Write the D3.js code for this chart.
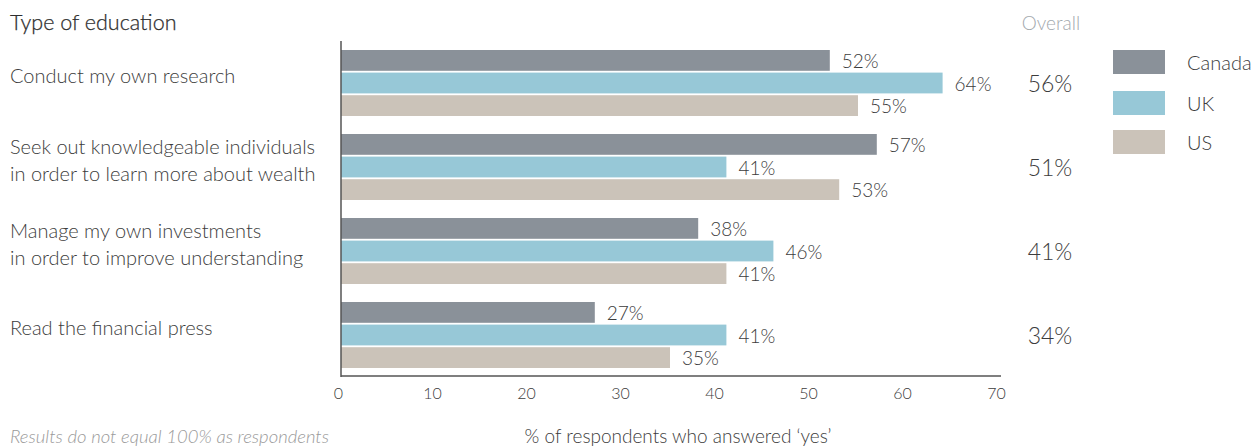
<!DOCTYPE html>
<html>
<head>
<meta charset="utf-8">
<script src="https://cdn.jsdelivr.net/npm/d3@7"></script>
<style>
  html, body { margin: 0; padding: 0; background: #fff; }
  svg { display: block; font-family: Lato, "Open Sans", sans-serif; font-weight: 300; }
</style>
</head>
<body>
<svg id="chart" width="1253" height="446"></svg>
<script>
const categories = [
  ["Conduct my own research"],
  ["Seek out knowledgeable individuals", "in order to learn more about wealth"],
  ["Manage my own investments", "in order to improve understanding"],
  ["Read the financial press"]
];
const series = ["Canada", "UK", "US"];
const canada = [52, 57, 38, 27];
const uk = [64, 41, 46, 41];
const us = [55, 53, 41, 35];
const overall = [56, 51, 41, 34];
const xTicks = [0, 10, 20, 30, 40, 50, 60, 70];
const colors = ["#8a9199", "#97c8d7", "#cbc3b9"];

const values = [canada, uk, us];
const svg = d3.select("#chart");
const textColor = "#3c3c3c";

const x = d3.scaleLinear().domain([0, 70]).range([341, 999]);
const y = d3.scaleBand().domain(d3.range(categories.length)).range([41, 377]).padding(0);
const yInner = d3.scaleBand().domain(series).range([9, 75]).paddingInner(0.08);

// title
svg.append("text").attr("x", 10).attr("y", 22).attr("dominant-baseline", "central")
  .attr("font-size", 21.5).attr("fill", "#2e2e2e").style("font-weight", 300)
  .style("stroke", "#2e2e2e").style("stroke-width", 0.25).text("Type of education");

// bars
const groups = svg.selectAll("g.grp").data(categories).join("g")
  .attr("class", "grp").attr("transform", (d, i) => `translate(0,${y(i)})`);

series.forEach((s, si) => {
  groups.append("rect")
    .attr("x", x(0))
    .attr("y", yInner(s))
    .attr("width", (d, i) => x(values[si][i]) - x(0))
    .attr("height", yInner.bandwidth())
    .attr("fill", colors[si]);
  groups.append("text")
    .attr("x", (d, i) => x(values[si][i]) + 12)
    .attr("y", yInner(s) + yInner.bandwidth() / 2)
    .attr("dominant-baseline", "central")
    .attr("font-size", 19).attr("fill", textColor)
    .text((d, i) => values[si][i] + "%");
});

// category labels
groups.each(function(d, i) {
  const g = d3.select(this);
  const n = d.length;
  const lineH = 27;
  const c = y.bandwidth() / 2 - 8;
  d.forEach((line, li) => {
    g.append("text").attr("x", 10)
      .attr("y", c + (li - (n - 1) / 2) * lineH)
      .attr("dominant-baseline", "central")
      .attr("font-size", 20).attr("fill", textColor).style("font-weight", 300)
      .text(line);
  });
  g.append("text").attr("x", 1050).attr("y", y.bandwidth() / 2)
    .attr("text-anchor", "middle").attr("dominant-baseline", "central")
    .attr("font-size", 23).attr("fill", textColor).text(overall[i] + "%");
});

// axes
const xAxis = d3.axisBottom(x).tickValues(xTicks).tickSize(0).tickPadding(12);
const ax = svg.append("g").attr("transform", "translate(0,376)").call(xAxis);
ax.select(".domain").remove();
ax.selectAll("text").attr("font-size", 16).attr("fill", textColor)
  .style("font-family", "Lato, sans-serif").style("font-weight", 300).attr("dx", -3);
svg.append("line").attr("x1", 341).attr("x2", 1001).attr("y1", 376).attr("y2", 376)
  .attr("stroke", "#555").attr("stroke-width", 1.5);
svg.append("line").attr("x1", 341).attr("x2", 341).attr("y1", 41).attr("y2", 377)
  .attr("stroke", "#555").attr("stroke-width", 1.5);

svg.append("text").attr("x", 678).attr("y", 435).attr("text-anchor", "middle")
  .attr("dominant-baseline", "central").attr("font-size", 19).attr("fill", textColor)
  .text("% of respondents who answered \u2018yes\u2019");

svg.append("text").attr("x", 10).attr("y", 436).attr("dominant-baseline", "central")
  .attr("font-size", 18.5).attr("fill", "#9a9a9a").style("font-style", "italic")
  .text("Results do not equal 100% as respondents");

// overall header
svg.append("text").attr("x", 1051).attr("y", 22).attr("text-anchor", "middle")
  .attr("dominant-baseline", "central").attr("font-size", 19).attr("fill", "#a3a9ae")
  .text("Overall");

// legend
const leg = svg.selectAll("g.leg").data(series).join("g").attr("class", "leg")
  .attr("transform", (d, i) => `translate(1113,${[50, 91, 130][i]})`);
leg.append("rect").attr("width", 52).attr("height", 24).attr("fill", (d, i) => colors[i]);
leg.append("text").attr("x", 74).attr("y", 12).attr("dominant-baseline", "central")
  .attr("font-size", 20).attr("fill", textColor).text(d => d);
</script>
</body>
</html>
